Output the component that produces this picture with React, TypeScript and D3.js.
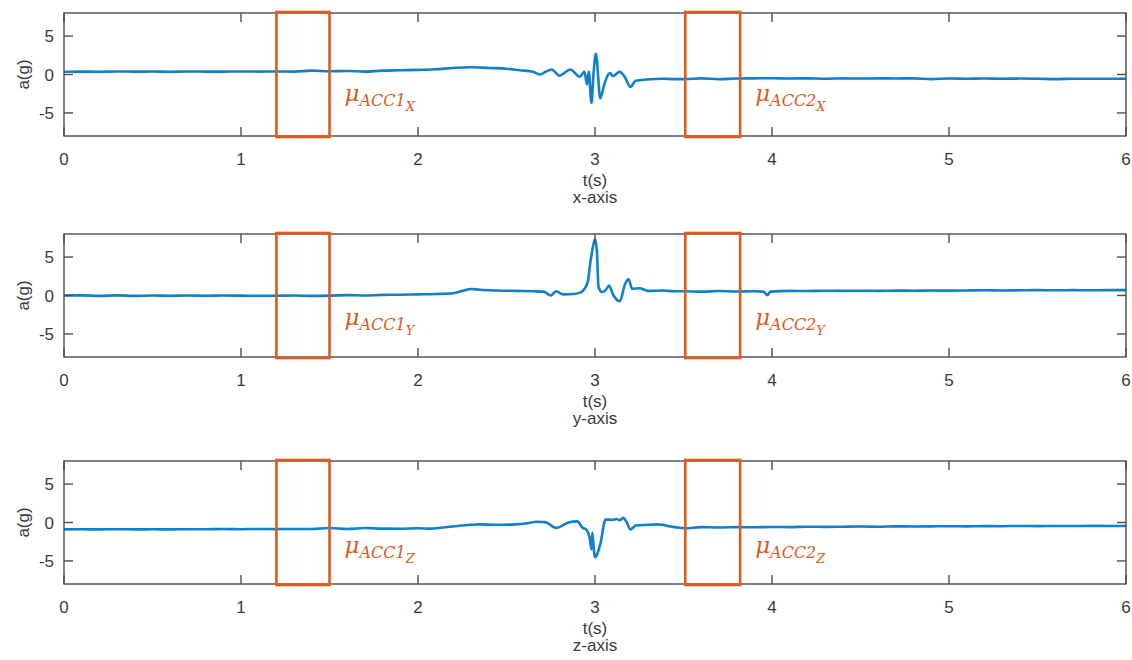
import React from "react";
import * as d3 from "d3";

// ---------- data (time in s, acceleration in g) ----------
const accX: [number, number][] = [
  [0, 0.35], [0.1, 0.38], [0.2, 0.36], [0.3, 0.4], [0.4, 0.37], [0.5, 0.39], [0.6, 0.36], [0.7, 0.4],
  [0.8, 0.38], [0.9, 0.37], [1.0, 0.4], [1.1, 0.38], [1.2, 0.4], [1.3, 0.38], [1.4, 0.5], [1.5, 0.42],
  [1.6, 0.45], [1.7, 0.38], [1.8, 0.5], [1.9, 0.55], [2.0, 0.6], [2.1, 0.68], [2.2, 0.85], [2.3, 0.95],
  [2.4, 0.85], [2.5, 0.75], [2.575, 0.55], [2.65, 0.35], [2.69, 0.0], [2.72, 0.35], [2.755, 0.65],
  [2.8, -0.15], [2.83, 0.25], [2.86, 0.65], [2.915, -0.3], [2.94, 0.4], [2.955, -1.3], [2.965, 0.4],
  [2.98, -3.7], [2.992, 0.2], [3.005, 2.7], [3.03, -3.1], [3.05, -1.5], [3.066, -0.4], [3.085, 0.2],
  [3.1, -0.2], [3.14, 0.35], [3.17, -0.4], [3.2, -1.6], [3.23, -0.8], [3.29, -0.65], [3.38, -0.55],
  [3.45, -0.6], [3.51, -0.6], [3.6, -0.5], [3.7, -0.62], [3.8, -0.52], [3.9, -0.5], [4.0, -0.48],
  [4.1, -0.52], [4.2, -0.5], [4.3, -0.55], [4.4, -0.5], [4.5, -0.53], [4.6, -0.5], [4.7, -0.52],
  [4.8, -0.5], [4.9, -0.6], [5.0, -0.52], [5.1, -0.55], [5.2, -0.52], [5.3, -0.55], [5.4, -0.53],
  [5.5, -0.55], [5.6, -0.6], [5.7, -0.55], [5.8, -0.56], [5.9, -0.55], [6.0, -0.55],
];

const accY: [number, number][] = [
  [0, 0.0], [0.1, 0.02], [0.2, -0.05], [0.3, 0.02], [0.4, -0.05], [0.5, 0.0], [0.6, -0.04], [0.7, 0.0],
  [0.8, -0.03], [0.9, 0.0], [1.0, -0.02], [1.1, -0.04], [1.2, -0.03], [1.3, 0.0], [1.4, -0.05],
  [1.5, -0.02], [1.6, 0.05], [1.7, 0.0], [1.8, 0.08], [1.9, 0.1], [2.0, 0.15], [2.1, 0.2], [2.2, 0.3],
  [2.25, 0.6], [2.3, 0.85], [2.35, 0.75], [2.45, 0.65], [2.55, 0.6], [2.65, 0.55], [2.71, 0.5],
  [2.75, 0.0], [2.78, 0.55], [2.82, 0.15], [2.88, 0.2], [2.92, 0.4], [2.94, 0.85], [2.96, 1.9],
  [2.975, 4.5], [2.99, 6.5], [3.0, 7.3], [3.01, 6.0], [3.02, 1.1], [3.04, 0.45], [3.06, 0.7],
  [3.08, 1.3], [3.1, 0.2], [3.14, -0.75], [3.17, 1.5], [3.19, 2.1], [3.21, 0.85], [3.25, 0.95],
  [3.3, 0.6], [3.38, 0.65], [3.45, 0.55], [3.5, 0.55], [3.6, 0.5], [3.7, 0.58], [3.8, 0.52],
  [3.9, 0.55], [3.95, 0.5], [3.975, 0.05], [3.99, 0.5], [4.1, 0.6], [4.2, 0.58], [4.3, 0.62],
  [4.4, 0.6], [4.5, 0.62], [4.6, 0.6], [4.7, 0.64], [4.8, 0.62], [4.9, 0.65], [5.0, 0.63],
  [5.1, 0.66], [5.2, 0.68], [5.3, 0.65], [5.4, 0.68], [5.5, 0.7], [5.6, 0.68], [5.7, 0.7],
  [5.8, 0.68], [5.9, 0.7], [6.0, 0.7],
];

const accZ: [number, number][] = [
  [0, -0.9], [0.1, -0.88], [0.2, -0.9], [0.3, -0.87], [0.4, -0.9], [0.5, -0.88], [0.6, -0.9],
  [0.7, -0.87], [0.8, -0.88], [0.9, -0.85], [1.0, -0.87], [1.1, -0.84], [1.2, -0.86], [1.3, -0.84],
  [1.4, -0.85], [1.5, -0.72], [1.6, -0.85], [1.7, -0.72], [1.8, -0.8], [1.9, -0.82], [2.0, -0.75],
  [2.07, -0.8], [2.2, -0.5], [2.3, -0.3], [2.34, -0.25], [2.45, -0.3], [2.55, -0.25], [2.62, -0.1],
  [2.67, 0.1], [2.72, 0.05], [2.78, -0.7], [2.85, 0.0], [2.9, 0.15], [2.93, -0.7], [2.95, -0.9],
  [2.97, -2.0], [2.98, -3.5], [2.985, -1.3], [2.995, -3.8], [3.0, -4.5], [3.03, -2.8], [3.06, 0.4],
  [3.1, 0.35], [3.12, 0.45], [3.14, 0.3], [3.16, 0.6], [3.18, 0.0], [3.2, -0.9], [3.23, -0.4],
  [3.3, -0.3], [3.35, -0.25], [3.45, -0.6], [3.51, -0.75], [3.6, -0.6], [3.7, -0.65], [3.8, -0.6],
  [3.9, -0.62], [4.0, -0.58], [4.1, -0.6], [4.2, -0.55], [4.3, -0.57], [4.4, -0.55], [4.5, -0.52],
  [4.6, -0.55], [4.7, -0.5], [4.8, -0.52], [4.9, -0.5], [5.0, -0.48], [5.1, -0.5], [5.2, -0.47],
  [5.3, -0.48], [5.4, -0.45], [5.5, -0.47], [5.6, -0.45], [5.7, -0.46], [5.8, -0.44], [5.9, -0.45],
  [6.0, -0.45],
];

const xTicks = [0, 1, 2, 3, 4, 5, 6];
const yTicks = [-5, 0, 5];
const xDomain: [number, number] = [0, 6];
const yDomain: [number, number] = [-8, 8];
const windows: [number, number][] = [[1.2, 1.5], [3.51, 3.82]];
const axisNames = ["x-axis", "y-axis", "z-axis"];
const subscriptNames = ["X", "Y", "Z"];
const windowNames = ["ACC1", "ACC2"];
const seriesList = [accX, accY, accZ];

// ---------- layout ----------
const W = 1132;
const H = 660;
const LEFT = 64;
const RIGHT = 1126;
const PANEL_TOPS = [13, 234, 461];
const LABEL_OFFSETS = [88, 91, 92];
const PANEL_H = 123;
const AXIS_COLOR = "#4d4d4d";
const TEXT_COLOR = "#3a3a3a";
const LINE_COLOR = "#1180cc";
const BOX_COLOR = "#e05a1c";
const FONT = "'Liberation Sans', Arial, Helvetica, sans-serif";
const SERIF = "'DejaVu Serif', 'Liberation Serif', serif";

function Panel({ idx }: { idx: number }) {
  const top = PANEL_TOPS[idx];
  const bottom = top + PANEL_H;
  const x = d3.scaleLinear().domain(xDomain).range([LEFT, RIGHT]);
  const y = d3.scaleLinear().domain(yDomain).range([bottom, top]);
  const line = d3
    .line<[number, number]>()
    .x((d) => x(d[0]))
    .y((d) => y(d[1]))
    .curve(d3.curveMonotoneX);
  const data = seriesList[idx];
  const tickLen = 9;
  return (
    <g>
      <path d={line(data) || ""} fill="none" stroke={LINE_COLOR} strokeWidth={2.6} strokeLinejoin="round" />
      <rect x={LEFT} y={top} width={RIGHT - LEFT} height={PANEL_H} fill="none" stroke={AXIS_COLOR} strokeWidth={1.4} />
      {xTicks.map((t) => (
        <g key={"xt" + t}>
          <line x1={x(t)} x2={x(t)} y1={bottom} y2={bottom - tickLen} stroke={AXIS_COLOR} strokeWidth={1.4} />
          <line x1={x(t)} x2={x(t)} y1={top} y2={top + tickLen} stroke={AXIS_COLOR} strokeWidth={1.4} />
          <text x={x(t)} y={bottom + 29} textAnchor="middle" fontSize={17} fill={TEXT_COLOR} fontFamily={FONT}>
            {t}
          </text>
        </g>
      ))}
      {yTicks.map((v) => (
        <g key={"yt" + v}>
          <line x1={LEFT} x2={LEFT + tickLen} y1={y(v)} y2={y(v)} stroke={AXIS_COLOR} strokeWidth={1.4} />
          <line x1={RIGHT} x2={RIGHT - tickLen} y1={y(v)} y2={y(v)} stroke={AXIS_COLOR} strokeWidth={1.4} />
          <text x={54} y={y(v) + 6} textAnchor="end" fontSize={17} fill={TEXT_COLOR} fontFamily={FONT}>
            {v}
          </text>
        </g>
      ))}
      <text
        transform={`translate(29,${y(0)}) rotate(-90)`}
        textAnchor="middle"
        fontSize={17}
        fill={TEXT_COLOR}
        fontFamily={FONT}
      >
        a(g)
      </text>
      <text x={(LEFT + RIGHT) / 2} y={bottom + 50} textAnchor="middle" fontSize={17} fill={TEXT_COLOR} fontFamily={FONT}>
        t(s)
      </text>
      <text x={(LEFT + RIGHT) / 2} y={bottom + 67} textAnchor="middle" fontSize={17} fill={TEXT_COLOR} fontFamily={FONT}>
        {axisNames[idx]}
      </text>
      {windows.map((w, i) => (
        <g key={"w" + i}>
          <rect
            x={x(w[0])}
            y={top - 1}
            width={x(w[1]) - x(w[0])}
            height={PANEL_H + 2}
            fill="none"
            stroke={BOX_COLOR}
            strokeWidth={2.6}
          />
          <text x={x(w[1]) + 15} y={top + LABEL_OFFSETS[idx]} fill={BOX_COLOR} fontFamily={SERIF} fontStyle="italic">
            <tspan fontSize={23}>μ</tspan>
            <tspan fontSize={16} dy={5}>
              {windowNames[i]}
            </tspan>
            <tspan fontSize={13} dy={5}>
              {subscriptNames[idx]}
            </tspan>
          </text>
        </g>
      ))}
    </g>
  );
}

export default function App() {
  return (
    <svg
      width={W}
      height={H}
      viewBox={`0 0 ${W} ${H}`}
      style={{ position: "absolute", left: 0, top: 0, background: "#fff" }}
    >
      <rect width={W} height={H} fill="#fff" />
      {[0, 1, 2].map((i) => (
        <Panel key={i} idx={i} />
      ))}
    </svg>
  );
}
